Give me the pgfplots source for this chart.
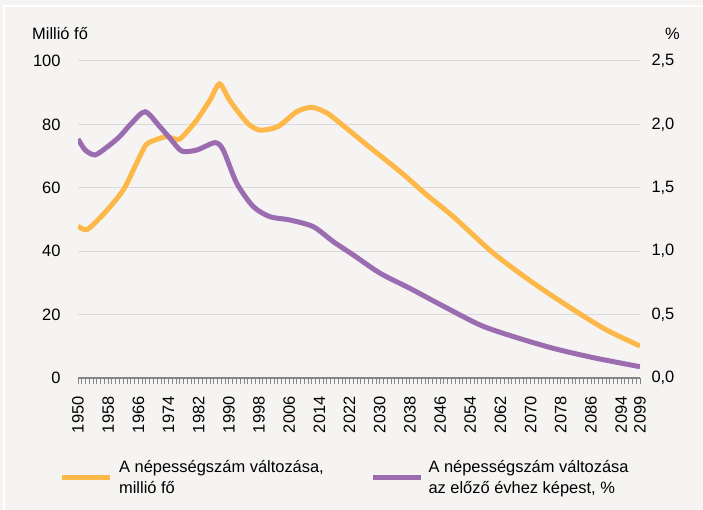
\documentclass[border=0pt]{standalone}
\usepackage{fontspec}
\setmainfont{Liberation Sans}
\usepackage{pgfplots}
\pgfplotsset{compat=1.18}
\definecolor{bgpanel}{HTML}{F5F4F2}
\definecolor{gridgray}{HTML}{D9D9D9}
\definecolor{axisgray}{HTML}{858585}
\definecolor{nepOrange}{HTML}{FDB84A}
\definecolor{nepPurple}{HTML}{9B6DB0}
\newcommand{\chartfont}{\fontsize{16.5}{21}\selectfont}

\begin{document}
\begin{tikzpicture}
  % panel background, axis lower-left corner sits at (0,0)
  \fill[bgpanel] (-78bp,-132bp) rectangle (625bp,378bp);
  \draw[white,line width=2bp] (-74bp,-132bp) -- (-74bp,372bp) -- (625bp,372bp);

  \begin{axis}[
      scale only axis,
      width=562bp,height=317bp,
      xmin=1950,xmax=2099,
      ymin=0,ymax=100,
      axis x line*=bottom,
      axis y line*=left,
      y axis line style={draw=none},
      x axis line style={draw=axisgray,line width=2.2bp},
      ytick={0,20,40,60,80,100},
      ytick style={draw=none},
      ymajorgrids,
      grid style={gridgray,line width=1bp},
      xtick={1950,1958,1966,1974,1982,1990,1998,2006,2014,2022,2030,2038,2046,2054,2062,2070,2078,2086,2094,2099},
      minor xtick={1950,1951,...,2099},
      tick align=outside,
      xtick style={draw=axisgray,line width=0.9bp},
      major tick length=6bp,
      minor tick length=6bp,
      /pgf/number format/assume math mode=true,
      /pgf/number format/set thousands separator={},
      tick label style={font=\chartfont,text=black},
      xticklabel style={rotate=90,anchor=east},
      xticklabel shift=9bp,
      yticklabel style={xshift=-8bp},
      legend style={draw=none,fill=none,at={(-0.0392,-0.246)},anchor=north west,
        legend columns=2,font=\chartfont,cells={align=left},
        /tikz/every even column/.append style={column sep=45bp}},
      legend cell align=left,
      legend image code/.code={\draw[#1,line width=5bp] (0bp,0bp) -- (48bp,0bp);\path (53bp,0bp);},
    ]
    \addplot[nepOrange,line width=5bp,smooth,tension=0.45] coordinates {
      (1950,47.9)(1952.5,46.9)(1957,52.0)(1962,59.3)(1965.5,67.7)(1968,73.5)
      (1970.5,75.1)(1973.5,76.1)(1976.5,75.2)(1978,76.5)(1981.5,81.4)
      (1985,87.7)(1987.5,92.8)(1990,88.0)(1992.1,84.5)(1995.3,80.0)
      (1998.3,78.2)(2003,79.3)(2008,84.0)(2012,85.4)(2016,83.6)(2019.5,80.4)
      (2026.6,73.5)(2035.4,65.1)(2042.5,57.7)(2049.5,50.9)
      (2060.2,39.3)(2070.8,29.9)(2081.4,21.5)(2090.2,15.1)(2099,10.1)};
    \addlegendentry{A népességszám változása,\\millió fő}
    \addlegendimage{nepPurple}
    \addlegendentry{A népességszám változása\\az előző évhez képest, \%}
  \end{axis}

  \begin{axis}[
      scale only axis,
      width=562bp,height=317bp,
      xmin=1950,xmax=2099,
      ymin=0,ymax=2.5,
      axis x line=none,
      axis y line*=right,
      y axis line style={draw=none},
      ytick={0,0.5,1,1.5,2,2.5},
      ytick style={draw=none},
      /pgf/number format/assume math mode=true,
      /pgf/number format/.cd,use comma,fixed,fixed zerofill,precision=1,
      /pgfplots/.cd,
      yticklabel style={font=\chartfont,text=black,xshift=8bp},
    ]
    \addplot[nepPurple,line width=5bp,smooth,tension=0.45] coordinates {
      (1950,1.885)(1951.9,1.798)(1954.5,1.759)(1957.6,1.819)(1961,1.903)
      (1964.2,2.009)(1967.8,2.100)(1971.7,1.982)(1974.4,1.890)(1977.5,1.790)
      (1981.5,1.798)(1986.3,1.856)(1988.5,1.798)(1992.1,1.535)(1996.5,1.351)
      (2000.9,1.272)(2006.2,1.246)(2012.4,1.193)(2017.7,1.075)(2023,0.970)
      (2030.1,0.826)(2038,0.707)(2046,0.580)(2056.6,0.418)
      (2065.5,0.326)(2076,0.234)(2086.7,0.160)(2099,0.089)};
  \end{axis}

  \node[anchor=base west,font=\chartfont,inner sep=0pt] at (-46bp,338bp) {Millió fő};
  \node[anchor=base west,font=\chartfont,inner sep=0pt] at (587bp,338bp) {\%};

  \pgfresetboundingbox
  \path (-78bp,-132bp) rectangle (625bp,378bp);
\end{tikzpicture}
\end{document}
